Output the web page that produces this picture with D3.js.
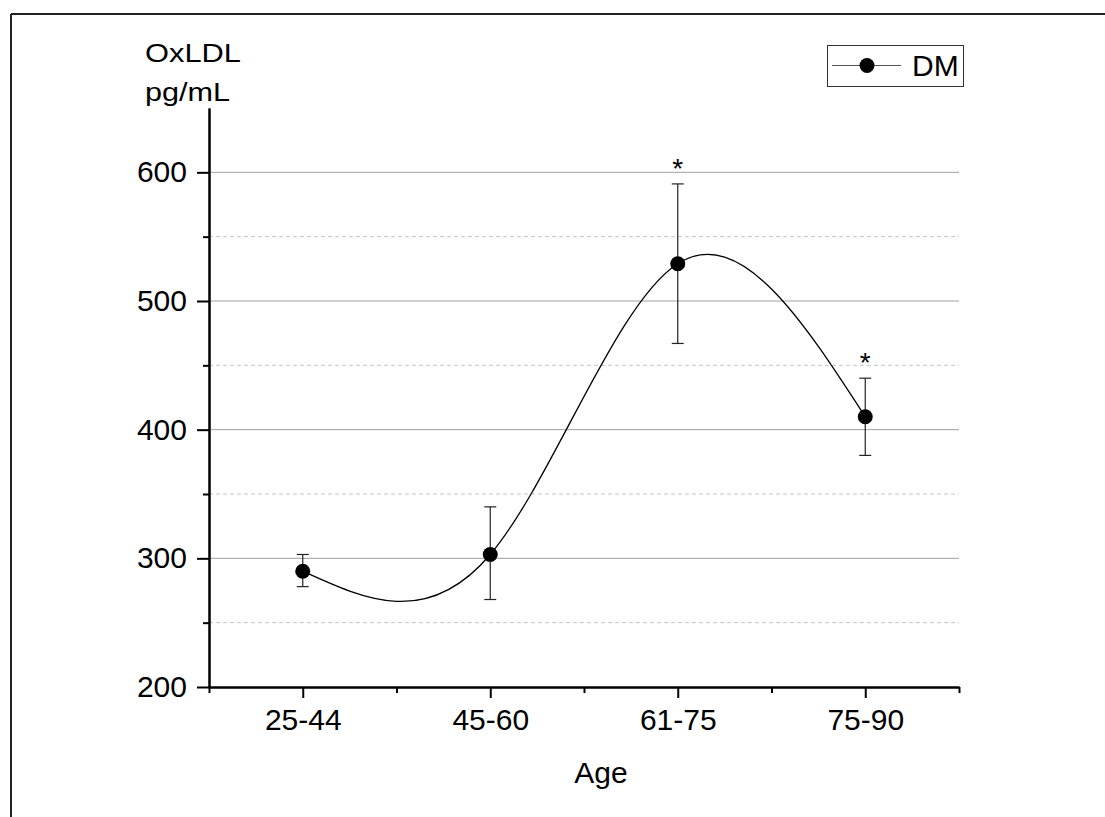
<!DOCTYPE html>
<html>
<head>
<meta charset="utf-8">
<script src="https://cdn.jsdelivr.net/npm/d3@7"></script>
<style>
  html, body { margin: 0; padding: 0; background: #fff; }
  svg { display: block; }
  text { font-family: "Liberation Sans", Arial, sans-serif; fill: #000; }
</style>
</head>
<body>
<div id="chart"></div>
<script>
// data
var ageGroups = ["25-44", "45-60", "61-75", "75-90"];
var oxldlMean = [290, 303, 529, 410];
var errLow = [278, 268, 467, 380];
var errHigh = [303, 340, 591, 440];
var significant = [false, false, true, true];
var yTicks = [200, 300, 400, 500, 600];
var yMinorTicks = [250, 350, 450, 550];
var xMinorTicks = [0.5, 1.5, 2.5, 3.5, 4.5];
var seriesName = "DM";

var width = 1105,
    height = 817;

var svg = d3.select("#chart").append("svg")
    .attr("width", width)
    .attr("height", height);

// frame (top and left only)
svg.append("line")
    .attr("x1", 11).attr("y1", 14).attr("x2", width).attr("y2", 14)
    .attr("stroke", "#222").attr("stroke-width", 2);
svg.append("line")
    .attr("x1", 11).attr("y1", 14).attr("x2", 11).attr("y2", height)
    .attr("stroke", "#222").attr("stroke-width", 2);

var x = d3.scaleLinear().domain([0.5, 4.5]).range([209, 959]);
var y = d3.scaleLinear().domain([200, 650]).range([687, 108]);

var points = oxldlMean.map(function(v, i) {
    return { i: i + 1, v: v, lo: errLow[i], hi: errHigh[i], star: significant[i] };
});

// grid
svg.append("g").selectAll("line")
    .data(yMinorTicks)
    .enter().append("line")
    .attr("x1", x(0.5)).attr("x2", x(4.5))
    .attr("y1", function(d) { return y(d); })
    .attr("y2", function(d) { return y(d); })
    .attr("stroke", "#c4c4c4")
    .attr("stroke-dasharray", "4,3");

svg.append("g").selectAll("line")
    .data(yTicks.slice(1))
    .enter().append("line")
    .attr("x1", x(0.5)).attr("x2", x(4.5))
    .attr("y1", function(d) { return y(d); })
    .attr("y2", function(d) { return y(d); })
    .attr("stroke", "#a0a0a0");

// axes
function styleAxis(g) {
    g.select(".domain").attr("stroke", "#000").attr("stroke-width", 2);
    g.selectAll(".tick line").attr("stroke", "#000").attr("stroke-width", 2);
    g.selectAll(".tick text").attr("font-size", 30).attr("fill", "#000")
        .attr("font-family", '"Liberation Sans", Arial, sans-serif');
}

svg.append("g")
    .attr("transform", "translate(" + x(0.5) + ",0)")
    .call(d3.axisLeft(y).tickValues(yMinorTicks).tickSize(6).tickSizeOuter(0).tickFormat(""))
    .call(styleAxis);

svg.append("g")
    .attr("transform", "translate(" + x(0.5) + ",0)")
    .call(d3.axisLeft(y).tickValues(yTicks).tickSize(12).tickPadding(10).tickSizeOuter(0))
    .call(styleAxis);

svg.append("g")
    .attr("transform", "translate(0," + y(200) + ")")
    .call(d3.axisBottom(x).tickValues(xMinorTicks).tickSize(6).tickSizeOuter(0).tickFormat(""))
    .call(styleAxis);

svg.append("g")
    .attr("transform", "translate(0," + y(200) + ")")
    .call(d3.axisBottom(x).tickValues([1, 2, 3, 4]).tickSize(11).tickPadding(11).tickSizeOuter(0)
        .tickFormat(function(d) { return ageGroups[d - 1]; }))
    .call(styleAxis);

// axis titles
svg.append("text")
    .attr("x", 145).attr("y", 62)
    .attr("font-size", 25)
    .attr("textLength", 96).attr("lengthAdjust", "spacingAndGlyphs")
    .text("OxLDL");
svg.append("text")
    .attr("x", 145).attr("y", 101)
    .attr("font-size", 25)
    .attr("textLength", 85).attr("lengthAdjust", "spacingAndGlyphs")
    .text("pg/mL");
svg.append("text")
    .attr("x", 601).attr("y", 783)
    .attr("text-anchor", "middle")
    .attr("font-size", 30)
    .text("Age");

// smooth line
var line = d3.line()
    .x(function(d) { return x(d.i); })
    .y(function(d) { return y(d.v); })
    .curve(d3.curveNatural);

svg.append("path")
    .datum(points)
    .attr("d", line)
    .attr("fill", "none")
    .attr("stroke", "#000")
    .attr("stroke-width", 1.3);

// error bars
var capW = 6;
var err = svg.append("g").selectAll("g")
    .data(points)
    .enter().append("g")
    .attr("stroke", "#222")
    .attr("stroke-width", 1.2);

err.append("line")
    .attr("x1", function(d) { return x(d.i); })
    .attr("x2", function(d) { return x(d.i); })
    .attr("y1", function(d) { return y(d.lo); })
    .attr("y2", function(d) { return y(d.hi); });
err.append("line")
    .attr("x1", function(d) { return x(d.i) - capW; })
    .attr("x2", function(d) { return x(d.i) + capW; })
    .attr("y1", function(d) { return y(d.hi); })
    .attr("y2", function(d) { return y(d.hi); });
err.append("line")
    .attr("x1", function(d) { return x(d.i) - capW; })
    .attr("x2", function(d) { return x(d.i) + capW; })
    .attr("y1", function(d) { return y(d.lo); })
    .attr("y2", function(d) { return y(d.lo); });

// markers
svg.append("g").selectAll("circle")
    .data(points)
    .enter().append("circle")
    .attr("cx", function(d) { return x(d.i); })
    .attr("cy", function(d) { return y(d.v); })
    .attr("r", 7.5)
    .attr("fill", "#000");

// significance stars
svg.append("g").selectAll("text")
    .data(points.filter(function(d) { return d.star; }))
    .enter().append("text")
    .attr("x", function(d) { return x(d.i); })
    .attr("y", function(d) { return y(d.hi) - 6; })
    .attr("text-anchor", "middle")
    .attr("font-size", 28)
    .text("*");

// legend
var legend = svg.append("g");
legend.append("rect")
    .attr("x", 827.5).attr("y", 45.5)
    .attr("width", 136).attr("height", 41)
    .attr("fill", "#fff")
    .attr("stroke", "#333");
legend.append("line")
    .attr("x1", 832).attr("x2", 901)
    .attr("y1", 65.5).attr("y2", 65.5)
    .attr("stroke", "#555").attr("stroke-width", 1.2);
legend.append("circle")
    .attr("cx", 867).attr("cy", 65.5).attr("r", 7.5)
    .attr("fill", "#000");
legend.append("text")
    .attr("x", 912).attr("y", 76)
    .attr("font-size", 30)
    .text(seriesName);
</script>
</body>
</html>
